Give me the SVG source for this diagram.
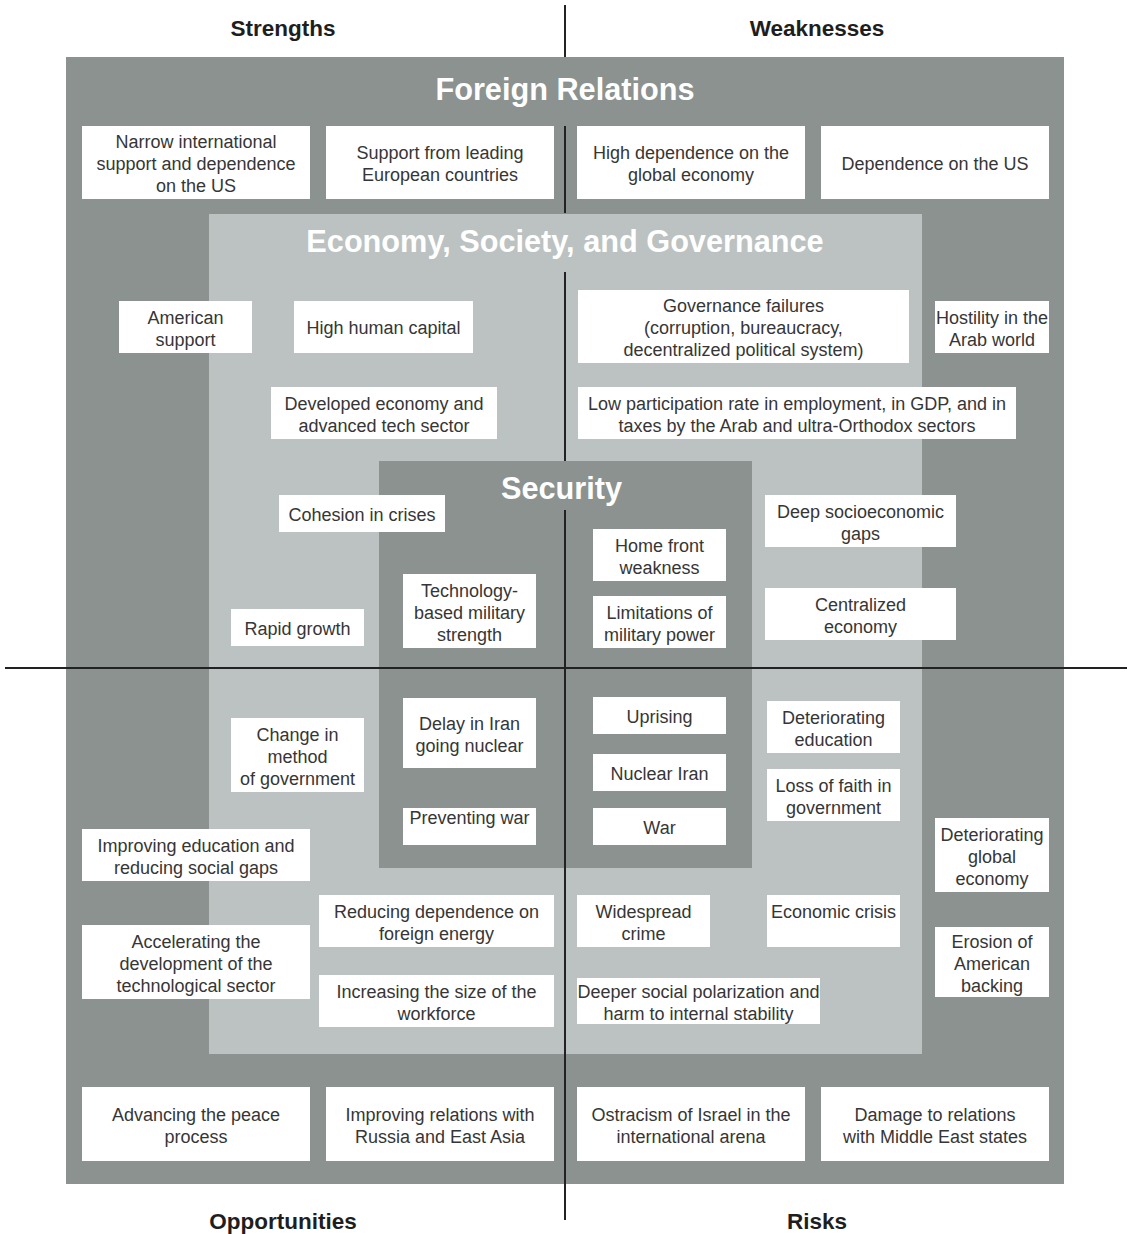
<svg xmlns="http://www.w3.org/2000/svg" width="1132" height="1234" viewBox="0 0 1132 1234">
<style>
  .dark { fill: #8b9290; }
  .light { fill: #bcc2c1; }
  .box { fill: #ffffff; }
  text { font-family: "Liberation Sans", Arial, sans-serif; }
  .t { font-size: 18px; fill: #363636; text-anchor: middle; }
  .title { font-size: 30.7px; font-weight: bold; fill: #ffffff; text-anchor: middle; }
  .hdr { font-size: 22.5px; font-weight: bold; fill: #1e1e1e; text-anchor: middle; }
  .axis { stroke: #222222; stroke-width: 2; fill: none; }
</style>
<rect width="1132" height="1234" fill="#ffffff"/>

<g id="layers">
  <rect id="foreign-relations-area" class="dark" x="66" y="57" width="998" height="1127"/>
  <rect id="economy-area" class="light" x="209" y="214" width="713" height="840"/>
  <rect id="security-area" class="dark" x="379" y="461" width="373" height="407"/>
</g>

<g id="connectors">
  <line class="axis" x1="565" y1="5" x2="565" y2="57"/>
  <line class="axis" x1="565" y1="126" x2="565" y2="213"/>
  <line class="axis" x1="565" y1="272" x2="565" y2="461"/>
  <line class="axis" x1="565" y1="510" x2="565" y2="1220"/>
  <line class="axis" x1="5" y1="668" x2="1127" y2="668"/>
</g>

<g id="headers">
  <text class="hdr" x="283" y="36">Strengths</text>
  <text class="hdr" x="817" y="36">Weaknesses</text>
  <text class="hdr" x="283" y="1229">Opportunities</text>
  <text class="hdr" x="817" y="1229">Risks</text>
  <text class="title" x="565" y="100">Foreign Relations</text>
  <text class="title" x="565" y="252">Economy, Society, and Governance</text>
  <text class="title" x="561.5" y="499">Security</text>
</g>

<!-- Foreign relations top row -->
<g id="f1"><rect class="box" x="82" y="126" width="228" height="73"/>
  <text class="t" x="196" y="148">Narrow international</text>
  <text class="t" x="196" y="170">support and dependence</text>
  <text class="t" x="196" y="192">on the US</text></g>
<g id="f2"><rect class="box" x="326" y="126" width="228" height="73"/>
  <text class="t" x="440" y="159">Support from leading</text>
  <text class="t" x="440" y="181">European countries</text></g>
<g id="f3"><rect class="box" x="577" y="126" width="228" height="73"/>
  <text class="t" x="691" y="159">High dependence on the</text>
  <text class="t" x="691" y="181">global economy</text></g>
<g id="f4"><rect class="box" x="821" y="126" width="228" height="73"/>
  <text class="t" x="935" y="170">Dependence on the US</text></g>

<!-- Upper economy / foreign -->
<g id="e1"><rect class="box" x="119" y="301" width="133" height="52"/>
  <text class="t" x="185.5" y="323.5">American</text>
  <text class="t" x="185.5" y="345.5">support</text></g>
<g id="e2"><rect class="box" x="294" y="301" width="179" height="52"/>
  <text class="t" x="383.5" y="334">High human capital</text></g>
<g id="e3"><rect class="box" x="578" y="290" width="331" height="73"/>
  <text class="t" x="743.5" y="312">Governance failures</text>
  <text class="t" x="743.5" y="334">(corruption, bureaucracy,</text>
  <text class="t" x="743.5" y="356">decentralized political system)</text></g>
<g id="e4"><rect class="box" x="935" y="301" width="114" height="52"/>
  <text class="t" x="992" y="323.5">Hostility in the</text>
  <text class="t" x="992" y="345.5">Arab world</text></g>
<g id="e5"><rect class="box" x="271" y="387" width="226" height="52"/>
  <text class="t" x="384" y="409.5">Developed economy and</text>
  <text class="t" x="384" y="431.5">advanced tech sector</text></g>
<g id="e6"><rect class="box" x="578" y="387" width="438" height="52"/>
  <text class="t" x="797" y="409.5">Low participation rate in employment, in GDP, and in</text>
  <text class="t" x="797" y="431.5">taxes by the Arab and ultra-Orthodox sectors</text></g>
<g id="e7"><rect class="box" x="279" y="495" width="166" height="37"/>
  <text class="t" x="362" y="520.5">Cohesion in crises</text></g>
<g id="e8"><rect class="box" x="231" y="609" width="133" height="37"/>
  <text class="t" x="297.5" y="634.5">Rapid growth</text></g>
<g id="e9"><rect class="box" x="765" y="495" width="191" height="52"/>
  <text class="t" x="860.5" y="517.5">Deep socioeconomic</text>
  <text class="t" x="860.5" y="539.5">gaps</text></g>
<g id="e10"><rect class="box" x="765" y="588" width="191" height="52"/>
  <text class="t" x="860.5" y="610.5">Centralized</text>
  <text class="t" x="860.5" y="632.5">economy</text></g>

<!-- Security -->
<g id="s1"><rect class="box" x="403" y="574" width="133" height="74"/>
  <text class="t" x="469.5" y="596.5">Technology-</text>
  <text class="t" x="469.5" y="618.5">based military</text>
  <text class="t" x="469.5" y="640.5">strength</text></g>
<g id="s2"><rect class="box" x="593" y="529" width="133" height="52"/>
  <text class="t" x="659.5" y="551.5">Home front</text>
  <text class="t" x="659.5" y="573.5">weakness</text></g>
<g id="s3"><rect class="box" x="593" y="596" width="133" height="52"/>
  <text class="t" x="659.5" y="618.5">Limitations of</text>
  <text class="t" x="659.5" y="640.5">military power</text></g>
<g id="s4"><rect class="box" x="403" y="698" width="133" height="70"/>
  <text class="t" x="469.5" y="729.5">Delay in Iran</text>
  <text class="t" x="469.5" y="751.5">going nuclear</text></g>
<g id="s5"><rect class="box" x="403" y="808" width="133" height="37"/>
  <text class="t" x="469.5" y="823.5">Preventing war</text></g>
<g id="s6"><rect class="box" x="593" y="697" width="133" height="37"/>
  <text class="t" x="659.5" y="722.5">Uprising</text></g>
<g id="s7"><rect class="box" x="593" y="754" width="133" height="37"/>
  <text class="t" x="659.5" y="779.5">Nuclear Iran</text></g>
<g id="s8"><rect class="box" x="593" y="808" width="133" height="37"/>
  <text class="t" x="659.5" y="833.5">War</text></g>

<!-- Lower economy -->
<g id="l1"><rect class="box" x="231" y="718" width="133" height="74"/>
  <text class="t" x="297.5" y="740.5">Change in</text>
  <text class="t" x="297.5" y="762.5">method</text>
  <text class="t" x="297.5" y="784.5">of government</text></g>
<g id="l2"><rect class="box" x="767" y="701" width="133" height="52"/>
  <text class="t" x="833.5" y="723.5">Deteriorating</text>
  <text class="t" x="833.5" y="745.5">education</text></g>
<g id="l3"><rect class="box" x="767" y="769" width="133" height="52"/>
  <text class="t" x="833.5" y="791.5">Loss of faith in</text>
  <text class="t" x="833.5" y="813.5">government</text></g>
<g id="l4"><rect class="box" x="577" y="895" width="133" height="52"/>
  <text class="t" x="643.5" y="917.5">Widespread</text>
  <text class="t" x="643.5" y="939.5">crime</text></g>
<g id="l5"><rect class="box" x="767" y="895" width="133" height="52"/>
  <text class="t" x="833.5" y="917.5">Economic crisis</text></g>
<g id="l6"><rect class="box" x="577" y="978" width="243" height="46"/>
  <text class="t" x="698.5" y="997.5">Deeper social polarization and</text>
  <text class="t" x="698.5" y="1019.5">harm to internal stability</text></g>
<g id="l7"><rect class="box" x="319" y="895" width="235" height="52"/>
  <text class="t" x="436.5" y="917.5">Reducing dependence on</text>
  <text class="t" x="436.5" y="939.5">foreign energy</text></g>
<g id="l8"><rect class="box" x="319" y="975" width="235" height="52"/>
  <text class="t" x="436.5" y="997.5">Increasing the size of the</text>
  <text class="t" x="436.5" y="1019.5">workforce</text></g>

<!-- Lower foreign -->
<g id="o1"><rect class="box" x="82" y="829" width="228" height="52"/>
  <text class="t" x="196" y="851.5">Improving education and</text>
  <text class="t" x="196" y="873.5">reducing social gaps</text></g>
<g id="o2"><rect class="box" x="82" y="925" width="228" height="74"/>
  <text class="t" x="196" y="947.5">Accelerating the</text>
  <text class="t" x="196" y="969.5">development of the</text>
  <text class="t" x="196" y="991.5">technological sector</text></g>
<g id="o3"><rect class="box" x="935" y="818" width="114" height="74"/>
  <text class="t" x="992" y="840.5">Deteriorating</text>
  <text class="t" x="992" y="862.5">global</text>
  <text class="t" x="992" y="884.5">economy</text></g>
<g id="o4"><rect class="box" x="935" y="927" width="114" height="70"/>
  <text class="t" x="992" y="947.5">Erosion of</text>
  <text class="t" x="992" y="969.5">American</text>
  <text class="t" x="992" y="991.5">backing</text></g>

<!-- Bottom row -->
<g id="b1"><rect class="box" x="82" y="1087" width="228" height="74"/>
  <text class="t" x="196" y="1120.5">Advancing the peace</text>
  <text class="t" x="196" y="1142.5">process</text></g>
<g id="b2"><rect class="box" x="326" y="1087" width="228" height="74"/>
  <text class="t" x="440" y="1120.5">Improving relations with</text>
  <text class="t" x="440" y="1142.5">Russia and East Asia</text></g>
<g id="b3"><rect class="box" x="577" y="1087" width="228" height="74"/>
  <text class="t" x="691" y="1120.5">Ostracism of Israel in the</text>
  <text class="t" x="691" y="1142.5">international arena</text></g>
<g id="b4"><rect class="box" x="821" y="1087" width="228" height="74"/>
  <text class="t" x="935" y="1120.5">Damage to relations</text>
  <text class="t" x="935" y="1142.5">with Middle East states</text></g>
</svg>
